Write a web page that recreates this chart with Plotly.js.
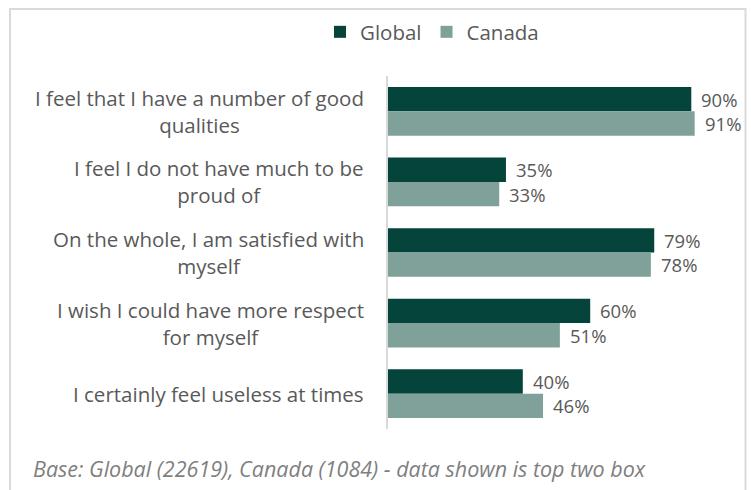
<!DOCTYPE html>
<html>
<head>
<meta charset="utf-8">
<script src="https://cdn.plot.ly/plotly-3.0.1.min.js"></script>
<style>
html, body { margin: 0; padding: 0; background: #ffffff; }
#chart { width: 751px; height: 490px; }
</style>
</head>
<body>
<div id="chart"></div>
<script>
// ---- Data ----
var categories = [
  "I feel that I have a number of good<br>qualities",
  "I feel I do not have much to be<br>proud of",
  "On the whole, I am satisfied with<br>myself",
  "I wish I could have more respect<br>for myself",
  "I certainly feel useless at times"
];
var seriesNames = ["Global", "Canada"];
var globalValues = [90, 35, 79, 60, 40];
var canadaValues = [91, 33, 78, 51, 46];
var footnote = "Base: Global (22619), Canada (1084) - data shown is top two box";

// ---- Style ----
var FONT = "Open Sans, Noto Sans, sans-serif";
var TEXT_COLOR = "#595959";
var colors = ["#05443a", "#7fa199"];
var BARGAP = 0.31;
var FS = 20.5;
var LABEL_FS = 18.5;

var yIdx = categories.map(function (c, i) { return i; });

var traces = [
  { type: "bar", orientation: "h", name: seriesNames[0], y: yIdx, x: globalValues,
    marker: { color: colors[0] }, hoverinfo: "x+y" },
  { type: "bar", orientation: "h", name: seriesNames[1], y: yIdx, x: canadaValues,
    marker: { color: colors[1] }, hoverinfo: "x+y" }
];

var annotations = [];
// category labels (centered multi-line, right-aligned block)
categories.forEach(function (c, i) {
  annotations.push({
    xref: "paper", yref: "y", x: 0, y: i, xanchor: "right", yanchor: "middle",
    xshift: -22, text: c, align: "center", showarrow: false,
    font: { family: FONT, size: FS, color: TEXT_COLOR }
  });
});
// data labels
var off = (1 - BARGAP) / 4;
[globalValues, canadaValues].forEach(function (vals, s) {
  vals.forEach(function (v, i) {
    annotations.push({
      xref: "x", yref: "y", x: v, y: i + (s === 0 ? -off : off),
      xanchor: "left", yanchor: "middle", xshift: 8,
      text: v + "%", showarrow: false,
      font: { family: FONT, size: LABEL_FS, color: TEXT_COLOR }
    });
  });
});
// footnote
annotations.push({
  xref: "paper", yref: "paper", x: (31 - 388) / 337, y: (429 - 468) / 353,
  xanchor: "left", yanchor: "middle", text: "<i>" + footnote + "</i>",
  showarrow: false, font: { family: FONT, size: 21.5, color: "#7f7f7f" }
});

var layout = {
  width: 751, height: 490,
  margin: { l: 388, r: 26, t: 76, b: 61, pad: 0 },
  paper_bgcolor: "#ffffff", plot_bgcolor: "#ffffff",
  barmode: "group", bargap: BARGAP, bargroupgap: 0,
  font: { family: FONT, color: TEXT_COLOR },
  showlegend: true,
  legend: {
    orientation: "h", xref: "container", yref: "container",
    x: 432 / 751, xanchor: "center", y: 1 - 32 / 490, yanchor: "middle",
    font: { family: FONT, size: FS, color: TEXT_COLOR },
    itemwidth: 30, traceorder: "normal"
  },
  xaxis: { range: [0, 100], visible: false, showgrid: false, zeroline: false, fixedrange: true },
  yaxis: {
    type: "linear", range: [categories.length - 0.5, -0.5],
    showticklabels: false, ticks: "", showgrid: false, zeroline: false,
    showline: true, linecolor: "#d9d9d9", linewidth: 2, fixedrange: true
  },
  annotations: annotations,
  shapes: [{
    type: "rect", xref: "paper", yref: "paper",
    x0: (10 - 388) / 337, x1: (745.5 - 388) / 337,
    y0: (429 - 500) / 353, y1: 1 + (76 - 9) / 353,
    line: { color: "#d9d9d9", width: 2 }, fillcolor: "rgba(0,0,0,0)", layer: "below"
  }]
};

Plotly.newPlot("chart", traces, layout, { displayModeBar: false, staticPlot: true });
</script>
</body>
</html>
